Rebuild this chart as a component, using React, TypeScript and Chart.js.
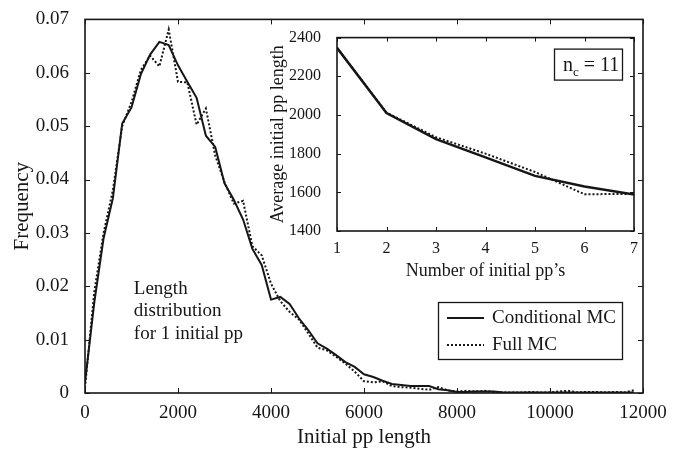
import React, { useEffect, useRef } from "react";
import { Chart, registerables } from "chart.js";

Chart.register(...registerables);

const FONT = '"Liberation Serif", "Times New Roman", Times, serif';
const INK = "#161616";

// ---- main chart data ----
const lengthBins = [
  0, 200, 400, 600, 800, 1000, 1200, 1400, 1600, 1800,
  2000, 2200, 2400, 2600, 2800, 3000, 3200, 3400, 3600, 3800,
  4000, 4200, 4400, 4600, 4800, 5000, 5200, 5400, 5600, 5800,
  6000, 6200, 6400, 6600, 6800, 7000, 7200, 7400, 7600, 7800,
  8000, 8200, 8400, 8600, 8800, 9000, 9200, 9400, 9600, 9800,
  10000, 10200, 10400, 10600, 10800, 11000, 11200, 11400, 11600, 11800,
];
const conditionalMC = [
  0.002, 0.017, 0.029, 0.0365, 0.0505, 0.0535, 0.0597, 0.0634, 0.0658, 0.0652,
  0.0614, 0.0583, 0.0553, 0.0482, 0.0461, 0.0393, 0.0362, 0.0325, 0.027, 0.024,
  0.0175, 0.018, 0.0167, 0.014, 0.0118, 0.0093, 0.0083, 0.0071, 0.0058, 0.0049,
  0.0035, 0.003, 0.0023, 0.0017, 0.0015, 0.0013, 0.0013, 0.0013, 0.0007, 0.0005,
  0.0002, 0.0002, 0.0003, 0.0003, 0.0003, 0.0001, 0.0001, 0.0001, 0.0001, 0.0001,
  0.0001, 0.0001, 0.0001, 0.0001, 0.0001, 0.0001, 0.0001, 0.0001, 0.0001, 0.0001,
];
const fullMC = [
  0.001, 0.019, 0.03, 0.038, 0.05, 0.0545, 0.0605, 0.0632, 0.0612, 0.0681,
  0.0583, 0.0582, 0.0503, 0.0533, 0.0445, 0.0395, 0.0355, 0.036, 0.0275, 0.0258,
  0.0205, 0.0172, 0.0152, 0.0138, 0.0112, 0.0085, 0.008, 0.0068, 0.0055, 0.004,
  0.0022, 0.002, 0.0022, 0.0013, 0.0011, 0.001, 0.0008, 0.0006, 0.0011, 0.0005,
  0.0003, 0.0004, 0.0003, 0.0004, 0.0002, 0.0001, 0.0001, 0.0001, 0.0002, 0.0001,
  0.0001, 0.0003, 0.0004, 0.0001, 0.0002, 0.0002, 0.0001, 0.0002, 0.0001, 0.0005,
];
const seriesLabels = ["Conditional MC", "Full MC"];
const annotationLines = ["Length", "distribution", "for 1 initial pp"];

// ---- inset data ----
const insetCounts = [1, 2, 3, 4, 5, 6, 7];
const insetConditional = [2347, 2010, 1875, 1781, 1685, 1630, 1589];
const insetFull = [2347, 2012, 1885, 1800, 1705, 1590, 1592];
const insetNote = { base: "n", sub: "c", rest: " = 11" };

const plainTick = (v: number) => String(Math.round(v));

const framePlugin = {
  id: "frame",
  afterDraw(chart: any, _args: any, opts: any) {
    const { ctx, chartArea: a, scales } = chart;
    const L = opts.tick ?? 5;
    ctx.save();
    ctx.strokeStyle = INK;
    ctx.lineWidth = opts.lineWidth ?? 1.5;
    ctx.strokeRect(a.left, a.top, a.right - a.left, a.bottom - a.top);
    ctx.lineWidth = 1;
    ctx.beginPath();
    scales.x.ticks.forEach((t: any) => {
      const p = Math.round(scales.x.getPixelForValue(t.value)) + 0.5;
      ctx.moveTo(p, a.bottom);
      ctx.lineTo(p, a.bottom - L);
      ctx.moveTo(p, a.top);
      ctx.lineTo(p, a.top + L);
    });
    scales.y.ticks.forEach((t: any) => {
      const p = Math.round(scales.y.getPixelForValue(t.value)) + 0.5;
      ctx.moveTo(a.left, p);
      ctx.lineTo(a.left + L, p);
      ctx.moveTo(a.right, p);
      ctx.lineTo(a.right - L, p);
    });
    ctx.stroke();
    ctx.restore();
  },
};

const mainDecorPlugin = {
  id: "mainDecor",
  afterDraw(chart: any) {
    const { ctx, chartArea: a, scales } = chart;
    ctx.save();
    ctx.fillStyle = INK;
    ctx.strokeStyle = INK;
    ctx.font = `19px ${FONT}`;
    ctx.textBaseline = "middle";
    ctx.textAlign = "left";
    // annotation
    const ax = scales.x.getPixelForValue(1050);
    const ys = [0.0194, 0.0153, 0.0111];
    annotationLines.forEach((s, i) => ctx.fillText(s, ax, scales.y.getPixelForValue(ys[i])));
    // legend
    const right = a.right - 21;
    const bottom = a.bottom - 34;
    const w = 184;
    const h = 57;
    const left = right - w;
    const top = bottom - h;
    ctx.fillStyle = "#fff";
    ctx.fillRect(left, top, w, h);
    ctx.lineWidth = 1.3;
    ctx.strokeRect(left + 0.5, top + 0.5, w, h);
    ctx.fillStyle = INK;
    const rows = [top + 16, top + 43];
    chart.data.datasets.forEach((ds: any, i: number) => {
      ctx.beginPath();
      ctx.lineWidth = ds.borderWidth;
      ctx.setLineDash(ds.borderDash || []);
      ctx.moveTo(left + 9, rows[i]);
      ctx.lineTo(left + 46, rows[i]);
      ctx.stroke();
      ctx.setLineDash([]);
      ctx.fillText(ds.label, left + 54, rows[i]);
    });
    ctx.restore();
  },
};

const insetDecorPlugin = {
  id: "insetDecor",
  afterDraw(chart: any) {
    const { ctx, chartArea: a } = chart;
    ctx.save();
    const right = a.right - 12;
    const left = right - 68;
    const top = a.top + 11;
    const h = 31;
    ctx.strokeStyle = INK;
    ctx.lineWidth = 1.3;
    ctx.strokeRect(left + 0.5, top + 0.5, 68, h);
    ctx.fillStyle = INK;
    ctx.textBaseline = "alphabetic";
    ctx.textAlign = "left";
    let x = left + 9;
    const base = top + 22;
    ctx.font = `20px ${FONT}`;
    ctx.fillText(insetNote.base, x, base);
    x += ctx.measureText(insetNote.base).width;
    ctx.font = `13px ${FONT}`;
    ctx.fillText(insetNote.sub, x, base + 5);
    x += ctx.measureText(insetNote.sub).width;
    ctx.font = `20px ${FONT}`;
    ctx.fillText(insetNote.rest, x, base);
    ctx.restore();
  },
};

function useChart(ref: React.RefObject<HTMLCanvasElement>, build: () => any) {
  useEffect(() => {
    if (!ref.current) return;
    const chart = new Chart(ref.current, build());
    return () => chart.destroy();
  }, []);
}

export default function App() {
  const mainRef = useRef<HTMLCanvasElement>(null);
  const insetRef = useRef<HTMLCanvasElement>(null);

  useChart(mainRef, () => ({
    type: "line",
    data: {
      datasets: [
        {
          label: seriesLabels[0],
          data: lengthBins.map((x, i) => ({ x, y: conditionalMC[i] })),
          borderColor: INK,
          borderWidth: 2,
          pointRadius: 0,
          tension: 0,
        },
        {
          label: seriesLabels[1],
          data: lengthBins.map((x, i) => ({ x, y: fullMC[i] })),
          borderColor: INK,
          borderWidth: 2,
          borderDash: [2, 2],
          pointRadius: 0,
          tension: 0,
        },
      ],
    },
    options: {
      responsive: false,
      animation: false,
      layout: { padding: { top: 13, right: 39, left: 0, bottom: 0 } },
      plugins: {
        legend: { display: false },
        tooltip: { enabled: false },
        frame: { tick: 5, lineWidth: 1.6 },
      },
      scales: {
        x: {
          type: "linear",
          min: 0,
          max: 12000,
          grid: { display: false },
          border: { display: false },
          ticks: { stepSize: 2000, color: INK, font: { family: FONT, size: 19 }, padding: 1, maxRotation: 0, callback: plainTick },
          title: { display: true, text: "Initial pp length", color: INK, font: { family: FONT, size: 21 }, padding: { top: 4, bottom: 3 } },
          afterFit: (s: any) => { s.height = 60; },
        },
        y: {
          type: "linear",
          min: 0,
          max: 0.07,
          grid: { display: false },
          border: { display: false },
          ticks: {
            stepSize: 0.01,
            color: INK,
            font: { family: FONT, size: 19 },
            padding: 8,
            callback: (v: number) => (Math.abs(v) < 1e-9 ? "0" : v.toFixed(2)),
          },
          title: { display: true, text: "Frequency", color: INK, font: { family: FONT, size: 21 }, padding: { top: 10, bottom: 0 } },
          afterFit: (s: any) => { s.width = 85; },
        },
      },
    },
    plugins: [framePlugin, mainDecorPlugin],
  }));

  useChart(insetRef, () => ({
    type: "line",
    data: {
      datasets: [
        {
          label: seriesLabels[0],
          data: insetCounts.map((x, i) => ({ x, y: insetConditional[i] })),
          borderColor: INK,
          borderWidth: 2.5,
          pointRadius: 0,
          tension: 0,
        },
        {
          label: seriesLabels[1],
          data: insetCounts.map((x, i) => ({ x, y: insetFull[i] })),
          borderColor: INK,
          borderWidth: 2,
          borderDash: [2, 2],
          pointRadius: 0,
          tension: 0,
        },
      ],
    },
    options: {
      responsive: false,
      animation: false,
      layout: { padding: { top: 9, right: 10, left: 0, bottom: 0 } },
      plugins: {
        legend: { display: false },
        tooltip: { enabled: false },
        frame: { tick: 4, lineWidth: 1.6 },
      },
      scales: {
        x: {
          type: "linear",
          min: 1,
          max: 7,
          grid: { display: false },
          border: { display: false },
          ticks: { stepSize: 1, color: INK, font: { family: FONT, size: 16 }, padding: 0, maxRotation: 0, callback: plainTick },
          title: { display: true, text: "Number of initial pp\u2019s", color: INK, font: { family: FONT, size: 18 }, padding: { top: 4, bottom: 8 } },
          afterFit: (s: any) => { s.height = 59; },
        },
        y: {
          type: "linear",
          min: 1400,
          max: 2400,
          grid: { display: false },
          border: { display: false },
          ticks: { stepSize: 200, color: INK, font: { family: FONT, size: 16 }, padding: 8, callback: plainTick },
          title: { display: true, text: "Average initial pp length", color: INK, font: { family: FONT, size: 18 }, padding: { top: 5, bottom: 0 } },
          afterFit: (s: any) => { s.width = 75; },
        },
      },
    },
    plugins: [framePlugin, insetDecorPlugin],
  }));

  return (
    <div style={{ position: "fixed", left: 0, top: 0, width: 682, height: 453, background: "#fff" }}>
      <canvas ref={mainRef} width={682} height={453} style={{ position: "absolute", left: 0, top: 0, width: 682, height: 453 }} />
      <canvas ref={insetRef} width={382} height={270} style={{ position: "absolute", left: 262, top: 20, width: 382, height: 270 }} />
    </div>
  );
}
